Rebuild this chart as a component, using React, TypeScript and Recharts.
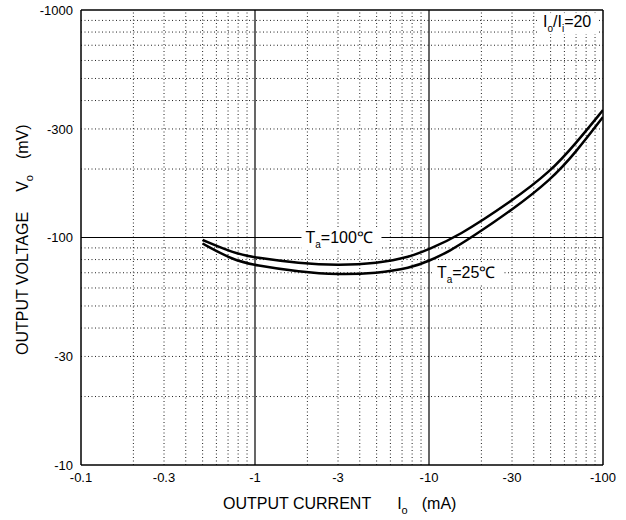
import { LineChart, Line, XAxis, YAxis, ReferenceLine, ReferenceDot } from 'recharts'

const FONT = '"Liberation Sans", Arial, sans-serif'

// output current Io (mA) / output voltage Vo (mV)
const ioHot = [-0.5, -0.75, -1, -1.8, -3, -5, -7.8, -10, -14.5, -30, -50, -70, -100]
const voHot = [-97.5, -85.5, -81.5, -77, -75.5, -76.9, -82.1, -89, -100.5, -144.7, -195, -260, -363]
const ioRoom = [-0.5, -0.75, -1, -1.8, -3, -5, -7.8, -10, -13.2, -17.7, -30, -50, -70, -100]
const voRoom = [-94.1, -79.5, -75.5, -70.6, -68.6, -69.6, -73.4, -78.8, -87.3, -100.5, -132.1, -178.9, -237.6, -338.6]

const xTicks = [-0.1, -0.3, -1, -3, -10, -30, -100]
const yTicks = [-10, -30, -100, -300, -1000]

// log grid: dotted at 2..9 of each decade, solid at the decades
const xMinorGrid = [0.2, 0.3, 0.4, 0.5, 0.6, 0.7, 0.8, 0.9, 2, 3, 4, 5, 6, 7, 8, 9, 20, 30, 40, 50, 60, 70, 80, 90]
const xMajorGrid = [1, 10, 100]
const yMinorGrid = [20, 30, 40, 50, 60, 70, 80, 90, 200, 300, 400, 500, 600, 700, 800, 900]
const yMajorGrid = [100, 1000]

const toRows = (io: number[], vo: number[]) => io.map((v, i) => ({ io: Math.abs(v), vo: Math.abs(vo[i]) }))
const hotRows = toRows(ioHot, voHot)
const roomRows = toRows(ioRoom, voRoom)

const neg = (v: number) => `-${v}`
const tickStyle = { fill: '#000', fontSize: 13, fontFamily: FONT }

function XTitle() {
  return (
    <text x={223} y={509} fontSize={16} fontFamily={FONT} fill="#000">
      <tspan>OUTPUT CURRENT</tspan>
      <tspan dx={26}>I</tspan>
      <tspan dy={5} fontSize={11}>o</tspan>
      <tspan dx={14} dy={-5}>(mA)</tspan>
    </text>
  )
}

function YTitle() {
  return (
    <text transform="translate(28,355) rotate(-90)" x={0} y={0} fontSize={16} fontFamily={FONT} fill="#000">
      <tspan>OUTPUT VOLTAGE</tspan>
      <tspan dx={20}>V</tspan>
      <tspan dy={5} fontSize={11}>o</tspan>
      <tspan dx={16} dy={-5}>(mV)</tspan>
    </text>
  )
}

// text with a subscript, on a white patch that breaks the grid behind it
function Tag({ vb, main, sub, rest, w }: { vb: any; main: string; sub: string; rest: string; w: number }) {
  const x = vb.x + (vb.width || 0) / 2
  const y = vb.y + (vb.height || 0) / 2
  return (
    <g>
      <rect x={x - 4} y={y - 14} width={w} height={21} fill="#fff" />
      <text x={x} y={y} fontSize={16} fontFamily={FONT} fill="#000">
        <tspan>{main}</tspan>
        <tspan dy={5} fontSize={10}>{sub}</tspan>
        <tspan dy={-5}>{rest}</tspan>
      </text>
    </g>
  )
}

function RatioTag({ vb }: { vb: any }) {
  const x = vb.x + (vb.width || 0) / 2
  const y = vb.y + (vb.height || 0) / 2
  return (
    <g>
      <rect x={x - 4} y={y - 14} width={60} height={21} fill="#fff" />
      <text x={x} y={y} fontSize={16} fontFamily={FONT} fill="#000">
        <tspan>I</tspan>
        <tspan dy={5} fontSize={10}>o</tspan>
        <tspan dy={-5}>/I</tspan>
        <tspan dy={5} fontSize={10}>i</tspan>
        <tspan dy={-5}>=20</tspan>
      </text>
    </g>
  )
}

export default function App() {
  return (
    <div style={{ position: 'absolute', left: 0, top: 0, background: '#fff' }}>
      <LineChart width={626} height={520} margin={{ top: 10, right: 23, bottom: 0, left: 0 }}>
        <XAxis
          dataKey="io"
          type="number"
          scale="log"
          domain={[0.1, 100]}
          allowDataOverflow
          ticks={xTicks.map(Math.abs)}
          interval={0}
          tickFormatter={neg}
          tick={tickStyle}
          tickLine={false}
          tickSize={0}
          tickMargin={8}
          axisLine={{ stroke: '#000', strokeWidth: 1.5 }}
          height={55}
          label={<XTitle />}
        />
        <YAxis
          dataKey="vo"
          type="number"
          scale="log"
          domain={[10, 1000]}
          allowDataOverflow
          ticks={yTicks.map(Math.abs)}
          interval={0}
          tickFormatter={neg}
          tick={tickStyle}
          tickLine={false}
          tickSize={0}
          tickMargin={8}
          axisLine={{ stroke: '#000', strokeWidth: 1.5 }}
          width={81}
          label={<YTitle />}
        />
        {xMinorGrid.map((v) => (
          <ReferenceLine key={`xm${v}`} x={v} stroke="#222" strokeWidth={1} strokeDasharray="1 2.5" />
        ))}
        {yMinorGrid.map((v) => (
          <ReferenceLine key={`ym${v}`} y={v} stroke="#222" strokeWidth={1} strokeDasharray="1 2.5" />
        ))}
        {xMajorGrid.map((v) => (
          <ReferenceLine key={`xM${v}`} x={v} stroke="#000" strokeWidth={v === 100 ? 1.5 : 1.2} />
        ))}
        {yMajorGrid.map((v) => (
          <ReferenceLine key={`yM${v}`} y={v} stroke="#000" strokeWidth={v === 1000 ? 1.5 : 1.2} />
        ))}
        <Line data={hotRows} dataKey="vo" name="Ta=100℃" type="basis" stroke="#000" strokeWidth={2.5} dot={false} isAnimationActive={false} />
        <Line data={roomRows} dataKey="vo" name="Ta=25℃" type="basis" stroke="#000" strokeWidth={2.5} dot={false} isAnimationActive={false} />
        <ReferenceDot
          x={1.95}
          y={94.5}
          r={0.1}
          fill="none"
          stroke="none"
          label={{ content: (p: any) => <Tag vb={p.viewBox} main="T" sub="a" rest="=100℃" w={80} /> }}
        />
        <ReferenceDot
          x={11.1}
          y={66.4}
          r={0.1}
          fill="none"
          stroke="none"
          label={{ content: (p: any) => <Tag vb={p.viewBox} main="T" sub="a" rest="=25℃" w={70} /> }}
        />
        <ReferenceDot
          x={45.2}
          y={841}
          r={0.1}
          fill="none"
          stroke="none"
          label={{ content: (p: any) => <RatioTag vb={p.viewBox} /> }}
        />
      </LineChart>
    </div>
  )
}
